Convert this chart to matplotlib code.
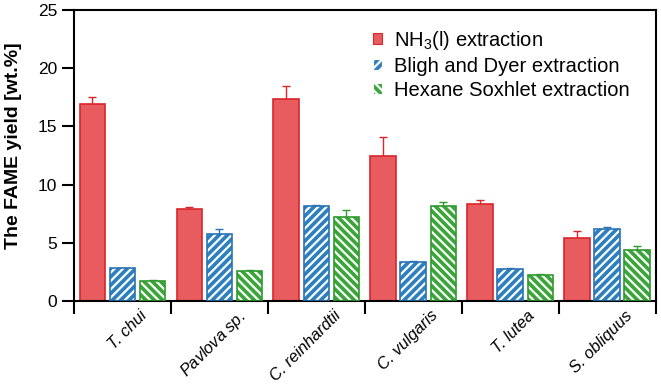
import matplotlib

matplotlib.use("Agg")
import matplotlib.pyplot as plt
import matplotlib.transforms as mtransforms
import numpy as np
from matplotlib.patches import Patch

plt.rcParams["font.family"] = ["Liberation Sans", "DejaVu Sans"]
plt.rcParams["mathtext.fontset"] = "custom"
plt.rcParams["mathtext.rm"] = "Liberation Sans"
plt.rcParams["mathtext.it"] = "Liberation Sans:italic"
plt.rcParams["hatch.linewidth"] = 1.6

# only "sp." is upright, so that one label goes through mathtext
species = ["T. chui", r"$\it{Pavlova}$ sp.", "C. reinhardtii",
           "C. vulgaris", "T. lutea", "S. obliquus"]
series = ["NH$_3$(l) extraction", "Bligh and Dyer extraction", "Hexane Soxhlet extraction"]

nh3 = [16.9, 7.95, 17.35, 12.45, 8.35, 5.45]
nh3_err = [0.6, 0.12, 1.1, 1.65, 0.3, 0.55]
bligh = [2.8, 5.75, 8.2, 3.35, 2.78, 6.15]
bligh_err = [0.05, 0.4, 0.05, 0.12, 0.05, 0.2]
hexane = [1.75, 2.58, 7.25, 8.15, 2.26, 4.38]
hexane_err = [0.06, 0.05, 0.6, 0.35, 0.03, 0.38]

FILL = ["#e85b5f", "#2d7fc0", "#3aa63a"]
EDGE = ["#d9262c", "#2a73b5", "#2f9a2f"]
HATCH = [None, "////", "\\\\\\\\"]

fig = plt.figure(figsize=(6.61, 3.86), dpi=100)
ax = fig.add_axes([0.112, 0.22, 0.88, 0.754])

x = np.arange(len(species)) + 0.5
w = 0.265
offs = [-0.31, 0.0, 0.31]
for k, (vals, errs) in enumerate([(nh3, nh3_err), (bligh, bligh_err), (hexane, hexane_err)]):
    pos = x + offs[k]
    ax.errorbar(pos, vals, yerr=errs, fmt="none", ecolor=EDGE[k], elinewidth=1,
                capsize=3, capthick=1, zorder=1)
    if HATCH[k]:
        # white hatch on the fill, then the coloured outline on top
        ax.bar(pos, vals, w, color=FILL[k], edgecolor="white", hatch=HATCH[k],
               linewidth=0, zorder=2)
        ax.bar(pos, vals, w, facecolor="none", edgecolor=EDGE[k], linewidth=1.2, zorder=3)
    else:
        ax.bar(pos, vals, w, color=FILL[k], edgecolor=EDGE[k], linewidth=1.2, zorder=2)

ax.set_xlim(0, 6)
ax.set_ylim(0, 25)
ax.set_yticks([0, 5, 10, 15, 20, 25])
ax.set_xticks(range(7))
ax.set_xticklabels([])
ax.tick_params(axis="x", which="major", length=9, width=1.5, direction="out")
ax.tick_params(axis="y", length=9, width=1.5, labelsize=12.5, pad=3)
for s in ax.spines.values():
    s.set_linewidth(1.5)

# category names: rotated, top-right corner a little right of the group centre
shift = mtransforms.ScaledTranslation(0.17, -0.07, fig.dpi_scale_trans)
for xi, name in zip(x, species):
    ax.text(xi, 0, name, transform=ax.get_xaxis_transform() + shift, rotation=45,
            rotation_mode="anchor", ha="right", va="top", fontsize=11.8,
            fontstyle="italic")

ax.set_ylabel("The FAME yield [wt.%]", fontsize=14, fontweight="bold")
ax.yaxis.set_label_coords(-0.089, 0.534)

handles = [Patch(facecolor=FILL[k], edgecolor="white" if HATCH[k] else EDGE[k],
                 hatch=HATCH[k], linewidth=0.8) for k in range(3)]
ax.legend(handles, series, loc="upper left", bbox_to_anchor=(0.514, 0.935), frameon=False,
          fontsize=14.5, handlelength=0.45, handleheight=0.45, handletextpad=0.6,
          labelspacing=0.25, borderpad=0, borderaxespad=0)

fig.savefig("out.png", dpi=100)
